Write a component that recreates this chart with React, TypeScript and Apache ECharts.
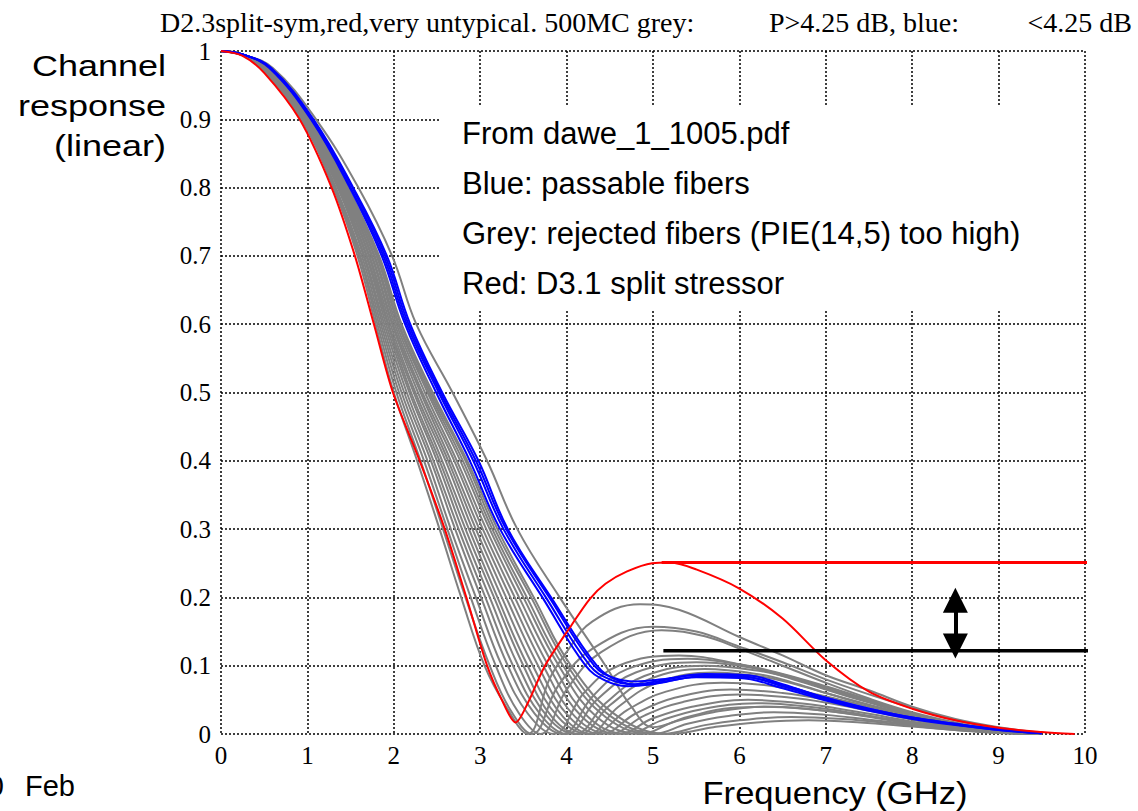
import React, { useEffect, useRef } from "react";
import * as echarts from "echarts";

// ---------- data (GHz, linear response) ----------
const RED: number[][] = [[0,1],[0.25,0.993],[0.5,0.968],[0.91,0.9],[1.28,0.8],[1.55,0.7],[1.77,0.6],[1.99,0.5],[2.3,0.4],[2.59,0.3],[2.84,0.2],[3.08,0.1],[3.25,0.05],[3.41,0.017],[3.55,0.045],[3.75,0.1],[4.06,0.16],[4.27,0.198],[4.45,0.22],[4.7,0.238],[4.99,0.25],[5.2,0.251],[5.5,0.241],[6.0,0.213],[6.5,0.169],[7.0,0.108],[7.5,0.062],[8.0,0.037],[8.5,0.02],[9.0,0.009],[9.5,0.003],[9.88,0.0]];

const BLUE_1: number[][] = [[0,1],[0.25,0.995],[0.56,0.975],[1.04,0.9],[1.49,0.8],[1.86,0.7],[2.13,0.6],[2.49,0.5],[2.88,0.4],[3.23,0.3],[3.72,0.2],[4.22,0.1],[4.45,0.078],[4.7,0.07],[5.0,0.073],[5.5,0.083],[6.0,0.082],[6.5,0.067],[7.0,0.049],[7.5,0.034],[8.0,0.022],[8.5,0.013],[9.0,0.006],[9.5,0.001]];
const BLUE_2: number[][] = [[0,1],[0.25,0.995],[0.57,0.975],[1.05,0.9],[1.5,0.8],[1.88,0.7],[2.15,0.6],[2.52,0.5],[2.92,0.4],[3.27,0.3],[3.76,0.2],[4.27,0.1],[4.5,0.08],[4.75,0.073],[5.0,0.076],[5.5,0.086],[6.0,0.085],[6.5,0.07],[7.0,0.051],[7.5,0.036],[8.0,0.023],[8.5,0.014],[9.0,0.006],[9.5,0.001]];
const BLUE_3: number[][] = [[0,1],[0.25,0.995],[0.58,0.975],[1.06,0.9],[1.52,0.8],[1.9,0.7],[2.17,0.6],[2.54,0.5],[2.95,0.4],[3.3,0.3],[3.8,0.2],[4.32,0.1],[4.55,0.082],[4.8,0.077],[5.1,0.08],[5.6,0.088],[6.1,0.086],[6.5,0.073],[7.0,0.053],[7.5,0.037],[8.0,0.024],[8.5,0.015],[9.0,0.007],[9.5,0.001]];
const BLUE_4: number[][] = [[0,1],[0.25,0.995],[0.58,0.975],[1.07,0.9],[1.53,0.8],[1.92,0.7],[2.19,0.6],[2.56,0.5],[2.98,0.4],[3.32,0.3],[3.82,0.2],[4.35,0.1],[4.6,0.078],[4.85,0.072],[5.15,0.077],[5.6,0.085],[6.1,0.083],[6.6,0.068],[7.0,0.053],[7.5,0.037],[8.0,0.024],[8.5,0.015],[9.0,0.007],[9.5,0.001]];

const GREY_1: number[][] = [[0,1],[0.25,0.994],[0.5,0.97],[0.93,0.9],[1.3,0.8],[1.58,0.7],[1.79,0.6],[2.0,0.5],[2.27,0.4],[2.53,0.3],[2.78,0.2],[3.05,0.1],[3.3,0.04],[3.55,0.0],[3.8,0.08],[4.0,0.12],[4.3,0.165],[4.85,0.19],[5.3,0.182],[6.0,0.142],[6.5,0.115],[7.0,0.086],[7.5,0.064],[8.0,0.04],[8.5,0.022],[9.0,0.01],[9.5,0.002]];
const GREY_2: number[][] = [[0,1],[0.25,0.994],[0.5,0.971],[0.94,0.9],[1.31,0.8],[1.6,0.7],[1.81,0.6],[2.03,0.5],[2.31,0.4],[2.57,0.3],[2.83,0.2],[3.11,0.1],[3.35,0.035],[3.6,0.0],[3.9,0.07],[4.3,0.125],[5.0,0.157],[5.5,0.15],[6.0,0.128],[6.5,0.105],[7.0,0.08],[7.5,0.058],[8.0,0.038],[8.5,0.02],[9.0,0.008],[9.5,0.001]];
const GREY_3: number[][] = [[0,1],[0.25,0.994],[0.51,0.971],[0.94,0.9],[1.32,0.8],[1.61,0.7],[1.83,0.6],[2.06,0.5],[2.35,0.4],[2.62,0.3],[2.89,0.2],[3.18,0.1],[3.45,0.03],[3.7,0.0],[4.0,0.065],[4.4,0.12],[5.1,0.152],[5.6,0.143],[6.0,0.125],[6.5,0.1],[7.0,0.075],[7.5,0.052],[8.0,0.032],[8.5,0.017],[9.0,0.006],[9.4,0.0]];
const GREY_4: number[][] = [[0,1],[0.25,0.994],[0.52,0.971],[0.95,0.9],[1.33,0.8],[1.63,0.7],[1.85,0.6],[2.09,0.5],[2.39,0.4],[2.66,0.3],[2.95,0.2],[3.25,0.1],[3.55,0.03],[3.85,0.0],[4.2,0.06],[4.6,0.1],[5.3,0.115],[6.0,0.102],[6.5,0.085],[7.0,0.065],[7.5,0.046],[8.0,0.028],[8.5,0.014],[9.0,0.005],[9.4,0.0]];
const GREY_5: number[][] = [[0,1],[0.25,0.994],[0.52,0.972],[0.96,0.9],[1.35,0.8],[1.65,0.7],[1.87,0.6],[2.12,0.5],[2.43,0.4],[2.71,0.3],[3.01,0.2],[3.32,0.1],[3.63,0.03],[3.95,0.0],[4.3,0.055],[4.7,0.095],[5.4,0.11],[6.0,0.102],[6.5,0.088],[7.0,0.07],[7.5,0.05],[8.0,0.03],[8.5,0.015],[9.0,0.005],[9.5,0.0]];
const GREY_6: number[][] = [[0,1],[0.25,0.994],[0.53,0.972],[0.96,0.9],[1.36,0.8],[1.66,0.7],[1.89,0.6],[2.15,0.5],[2.46,0.4],[2.75,0.3],[3.06,0.2],[3.38,0.1],[3.7,0.028],[4.0,0.0],[4.35,0.05],[4.8,0.09],[5.5,0.105],[6.0,0.1],[6.5,0.087],[7.0,0.068],[7.5,0.048],[8.0,0.03],[8.5,0.015],[9.0,0.005],[9.5,0.0]];
const GREY_7: number[][] = [[0,1],[0.25,0.994],[0.53,0.972],[0.97,0.9],[1.37,0.8],[1.68,0.7],[1.91,0.6],[2.18,0.5],[2.5,0.4],[2.79,0.3],[3.11,0.2],[3.44,0.1],[3.78,0.025],[4.1,0.0],[4.45,0.045],[4.9,0.085],[5.6,0.1],[6.2,0.093],[6.6,0.082],[7.0,0.066],[7.5,0.047],[8.0,0.029],[8.5,0.015],[9.0,0.005],[9.5,0.0]];
const GREY_8: number[][] = [[0,1],[0.25,0.994],[0.54,0.972],[0.98,0.9],[1.38,0.8],[1.69,0.7],[1.93,0.6],[2.2,0.5],[2.53,0.4],[2.83,0.3],[3.16,0.2],[3.5,0.1],[3.83,0.025],[4.15,0.0],[4.5,0.042],[4.95,0.08],[5.6,0.095],[6.2,0.088],[6.6,0.076],[7.0,0.06],[7.5,0.042],[8.0,0.026],[8.5,0.013],[9.0,0.004],[9.5,0.0]];
const GREY_9: number[][] = [[0,1],[0.25,0.994],[0.54,0.972],[0.98,0.9],[1.39,0.8],[1.71,0.7],[1.94,0.6],[2.23,0.5],[2.56,0.4],[2.87,0.3],[3.2,0.2],[3.55,0.1],[3.9,0.025],[4.25,0.0],[4.6,0.04],[5.05,0.075],[5.7,0.09],[6.3,0.083],[6.7,0.071],[7.0,0.06],[7.5,0.043],[8.0,0.027],[8.5,0.014],[9.0,0.005],[9.5,0.0]];
const GREY_10: number[][] = [[0,1],[0.25,0.994],[0.54,0.973],[0.99,0.9],[1.4,0.8],[1.72,0.7],[1.96,0.6],[2.25,0.5],[2.6,0.4],[2.91,0.3],[3.25,0.2],[3.61,0.1],[3.96,0.025],[4.3,0.0],[4.7,0.035],[5.15,0.062],[5.8,0.075],[6.4,0.07],[7.0,0.055],[7.5,0.04],[8.0,0.024],[8.5,0.012],[9.0,0.004],[9.5,0.0]];
const GREY_11: number[][] = [[0,1],[0.25,0.994],[0.55,0.973],[0.99,0.9],[1.41,0.8],[1.74,0.7],[1.98,0.6],[2.28,0.5],[2.63,0.4],[2.95,0.3],[3.3,0.2],[3.67,0.1],[4.03,0.025],[4.4,0.0],[4.8,0.03],[5.25,0.053],[5.9,0.065],[6.5,0.06],[7.0,0.05],[7.5,0.036],[8.0,0.022],[8.5,0.011],[9.0,0.004],[9.5,0.0]];
const GREY_12: number[][] = [[0,1],[0.25,0.994],[0.55,0.973],[1.0,0.9],[1.42,0.8],[1.75,0.7],[1.99,0.6],[2.31,0.5],[2.66,0.4],[2.99,0.3],[3.35,0.2],[3.73,0.1],[4.1,0.025],[4.5,0.0],[4.9,0.027],[5.35,0.047],[6.0,0.058],[6.6,0.053],[7.0,0.046],[7.5,0.034],[8.0,0.021],[8.5,0.01],[9.0,0.003],[9.5,0.0]];
const GREY_13: number[][] = [[0,1],[0.25,0.994],[0.55,0.974],[1.0,0.9],[1.43,0.8],[1.77,0.7],[2.01,0.6],[2.33,0.5],[2.7,0.4],[3.03,0.3],[3.4,0.2],[3.79,0.1],[4.18,0.025],[4.6,0.0],[5.0,0.023],[5.45,0.04],[6.1,0.05],[6.7,0.045],[7.2,0.036],[7.7,0.025],[8.2,0.014],[8.7,0.006],[9.2,0.001]];
const GREY_14: number[][] = [[0,1],[0.25,0.994],[0.55,0.974],[1.01,0.9],[1.44,0.8],[1.78,0.7],[2.03,0.6],[2.36,0.5],[2.73,0.4],[3.07,0.3],[3.45,0.2],[3.85,0.1],[4.25,0.025],[4.7,0.0],[5.1,0.02],[5.55,0.036],[6.2,0.045],[6.8,0.04],[7.3,0.031],[7.8,0.02],[8.3,0.011],[8.8,0.004],[9.3,0.0]];
const GREY_15: number[][] = [[0,1],[0.25,0.995],[0.56,0.974],[1.02,0.9],[1.45,0.8],[1.8,0.7],[2.05,0.6],[2.39,0.5],[2.77,0.4],[3.11,0.3],[3.5,0.2],[3.91,0.1],[4.35,0.025],[4.85,0.0],[5.25,0.018],[5.7,0.032],[6.3,0.04],[6.9,0.035],[7.4,0.027],[7.9,0.017],[8.4,0.009],[8.9,0.003],[9.4,0.0]];
const GREY_16: number[][] = [[0,1],[0.25,0.995],[0.56,0.974],[1.02,0.9],[1.46,0.8],[1.81,0.7],[2.06,0.6],[2.41,0.5],[2.8,0.4],[3.14,0.3],[3.54,0.2],[3.96,0.1],[4.45,0.025],[5.0,0.0],[5.4,0.015],[5.85,0.026],[6.4,0.032],[7.0,0.028],[7.5,0.021],[8.0,0.014],[8.5,0.007],[9.0,0.002],[9.4,0.0]];
const GREY_17: number[][] = [[0,1],[0.25,0.995],[0.57,0.974],[1.03,0.9],[1.46,0.8],[1.82,0.7],[2.08,0.6],[2.43,0.5],[2.83,0.4],[3.17,0.3],[3.59,0.2],[4.01,0.1],[4.52,0.025],[5.1,0.0],[5.6,0.013],[6.0,0.02],[6.6,0.025],[7.2,0.022],[7.8,0.015],[8.3,0.008],[8.8,0.003],[9.3,0.0]];
const GREY_18: number[][] = [[0,1],[0.25,0.995],[0.57,0.974],[1.03,0.9],[1.47,0.8],[1.83,0.7],[2.09,0.6],[2.45,0.5],[2.85,0.4],[3.2,0.3],[3.62,0.2],[4.05,0.1],[4.6,0.025],[5.2,0.0],[5.7,0.01],[6.2,0.017],[6.8,0.02],[7.4,0.017],[8.0,0.011],[8.5,0.006],[9.0,0.002],[9.4,0.0]];
const GREY_OUTER: number[][] = [[0,1],[0.25,0.995],[0.6,0.975],[1.1,0.9],[1.59,0.8],[1.98,0.7],[2.26,0.6],[2.68,0.5],[3.08,0.4],[3.43,0.3],[3.92,0.2],[4.45,0.1],[4.75,0.04],[5.0,0.01],[5.4,0.025],[5.9,0.038],[6.4,0.04],[7.0,0.034],[7.5,0.026],[8.0,0.017],[8.5,0.009],[9.0,0.003],[9.5,0.0]];

const GREYS = [GREY_1, GREY_2, GREY_3, GREY_4, GREY_5, GREY_6, GREY_7, GREY_8, GREY_9, GREY_10, GREY_11, GREY_12, GREY_13, GREY_14, GREY_15, GREY_16, GREY_17, GREY_18, GREY_OUTER];
const BLUES = [BLUE_1, BLUE_2, BLUE_3, BLUE_4];

// reference levels and the arrow between them
const RED_LEVEL: number[][] = [[5.1, 0.251], [10.5, 0.251]];
const BLACK_LEVEL: number[][] = [[5.12, 0.122], [10.5, 0.122]];
const ARROW_X = 8.5;
const ARROW_FROM = 0.196;
const ARROW_TO = 0.129;

const TITLE_PARTS = ["D2.3split-sym,red,very untypical. 500MC grey:", "P>4.25 dB, blue:", "<4.25 dB"];
const LEGEND_LINES = ["From dawe_1_1005.pdf", "Blue: passable fibers", "Grey: rejected fibers (PIE(14,5) too high)", "Red: D3.1 split stressor"];
const Y_LABEL = ["Channel", "response", "(linear)"];
const X_LABEL = "Frequency (GHz)";

const SERIF = "'Liberation Serif', 'Times New Roman', serif";
const SANS = "'Liberation Sans', Arial, sans-serif";

export default function App() {
  const ref = useRef<HTMLDivElement>(null);
  useEffect(() => {
    if (!ref.current) return;
    const chart = echarts.init(ref.current, undefined, { renderer: "svg" });
    const series: any[] = [];
    GREYS.forEach((d) =>
      series.push({ type: "line", data: d, smooth: 0.4, symbol: "none", silent: true, z: 2, lineStyle: { color: "#808080", width: 2 } })
    );
    BLUES.forEach((d) =>
      series.push({ type: "line", data: d, smooth: 0.4, symbol: "none", silent: true, z: 3, lineStyle: { color: "#0000ff", width: 2 } })
    );
    series.push({ type: "line", data: RED, smooth: 0.3, symbol: "none", silent: true, z: 4, lineStyle: { color: "#ff0000", width: 2 } });
    series.push({ type: "line", data: RED_LEVEL, symbol: "none", clip: false, silent: true, z: 4, lineStyle: { color: "#ff0000", width: 3 } });
    series.push({
      type: "line", data: BLACK_LEVEL, symbol: "none", clip: false, silent: true, z: 4,
      lineStyle: { color: "#000", width: 3.5 },
      markLine: {
        silent: true, animation: false, symbol: ["triangle", "triangle"], symbolSize: [25, 25],
        lineStyle: { color: "#000", width: 4, type: "solid" }, itemStyle: { color: "#000" },
        label: { show: false },
        data: [[{ coord: [ARROW_X, ARROW_FROM] }, { coord: [ARROW_X, ARROW_TO] }]],
      },
    });

    const graphic: any[] = [
      { type: "rect", z: 1, shape: { x: 441, y: 106, width: 643, height: 205 }, style: { fill: "#fff" } },
      ...LEGEND_LINES.map((t, i) => ({
        type: "text", z: 5, x: 462, y: 133 + i * 50,
        style: { text: t, fontFamily: SANS, fontSize: 31, fill: "#000", align: "left", verticalAlign: "middle" },
      })),
      { type: "text", z: 5, x: 160, y: 22, style: { text: TITLE_PARTS[0], fontFamily: SERIF, fontSize: 28, fill: "#000", align: "left", verticalAlign: "middle" } },
      { type: "text", z: 5, x: 769, y: 22, style: { text: TITLE_PARTS[1], fontFamily: SERIF, fontSize: 28, fill: "#000", align: "left", verticalAlign: "middle" } },
      { type: "text", z: 5, x: 1132, y: 22, style: { text: TITLE_PARTS[2], fontFamily: SERIF, fontSize: 28, fill: "#000", align: "right", verticalAlign: "middle" } },
      ...Y_LABEL.map((t, i) => ({
        type: "text", z: 5, x: 166, y: 66 + i * 40, scaleX: 1.2,
        style: { text: t, fontFamily: SANS, fontSize: 30, fill: "#000", align: "right", verticalAlign: "middle" },
      })),
      { type: "text", z: 5, x: 835, y: 793, scaleX: 1.08, style: { text: X_LABEL, fontFamily: SANS, fontSize: 32, fill: "#000", align: "center", verticalAlign: "middle" } },
      { type: "text", z: 5, x: 4, y: 786, style: { text: "0", fontFamily: SANS, fontSize: 29, fill: "#000", align: "right", verticalAlign: "middle" } },
      { type: "text", z: 5, x: 25, y: 786, style: { text: "Feb", fontFamily: SANS, fontSize: 29, fill: "#000", align: "left", verticalAlign: "middle" } },
    ];

    const gridLine = { show: true, lineStyle: { color: "#000", type: [2, 2], width: 1.5 } };
    chart.setOption({
      animation: false,
      backgroundColor: "#fff",
      grid: { left: 221, top: 51, width: 864, height: 683 },
      xAxis: {
        type: "value", min: 0, max: 10, interval: 1,
        axisLine: { show: false }, axisTick: { show: false }, splitLine: gridLine,
        axisLabel: { color: "#000", fontFamily: SERIF, fontSize: 25, margin: 9 },
      },
      yAxis: {
        type: "value", min: 0, max: 1, interval: 0.1,
        axisLine: { show: false }, axisTick: { show: false }, splitLine: gridLine,
        axisLabel: { color: "#000", fontFamily: SERIF, fontSize: 25, margin: 10, formatter: (v: number) => String(Math.round(v * 10) / 10) },
      },
      series,
      graphic,
    });
    return () => chart.dispose();
  }, []);
  return <div ref={ref} style={{ position: "fixed", left: 0, top: 0, width: 1138, height: 811 }} />;
}
